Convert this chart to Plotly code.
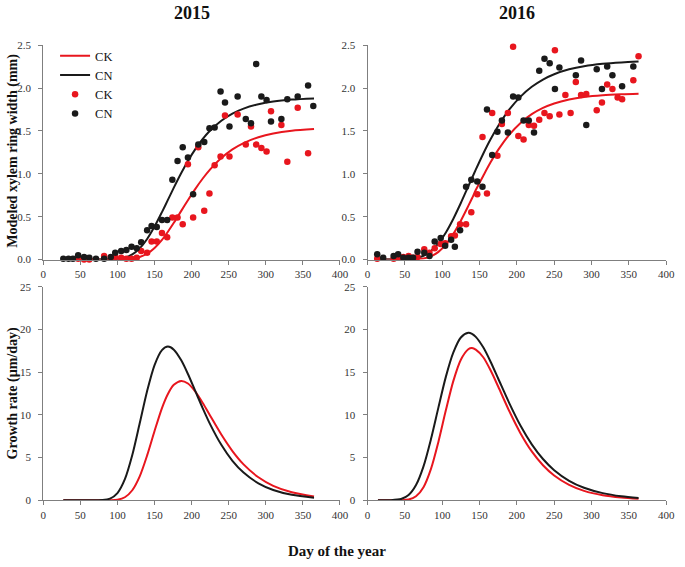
import plotly.graph_objects as go

# ---------------- observed points (day, ring width mm) ----------------
ck15_day = [47, 55, 62, 82, 91, 97, 105, 112, 119, 126, 132, 140, 146, 153, 160, 167, 174, 181, 188,
            195, 202, 209, 217, 224, 231, 239, 245, 251, 262, 273, 280, 287, 294, 301, 307, 321,
            329, 343, 357]
ck15_val = [0.01, 0.00, 0.00, 0.04, 0.02, 0.03, 0.02, 0.01, 0.01, 0.02, 0.10, 0.08, 0.21, 0.21, 0.31,
            0.26, 0.49, 0.49, 0.41, 1.11, 0.49, 1.31, 0.57, 0.77, 1.10, 1.20, 1.68, 1.20, 1.69, 1.34,
            1.55, 1.34, 1.30, 1.26, 1.73, 1.57, 1.14, 1.77, 1.24]

cn15_day = [27, 34, 40, 47, 55, 62, 71, 82, 91, 97, 105, 112, 119, 126, 132, 140, 146, 153, 160, 167,
            174, 181, 188, 195, 202, 209, 217, 224, 231, 239, 245, 251, 262, 273, 280, 287, 294, 301,
            307, 321, 329, 343, 357, 364]
cn15_val = [0.01, 0.01, 0.01, 0.05, 0.03, 0.02, 0.01, 0.01, 0.03, 0.08, 0.10, 0.11, 0.15, 0.13, 0.20,
            0.34, 0.39, 0.38, 0.46, 0.46, 0.93, 1.15, 1.31, 1.19, 0.76, 1.34, 1.37, 1.53, 1.54, 1.96,
            1.83, 1.55, 1.90, 1.64, 1.59, 2.28, 1.90, 1.86, 1.61, 1.64, 1.87, 1.90, 2.03, 1.79]

ck16_day = [13, 35, 41, 48, 55, 61, 67, 76, 83, 90, 98, 104, 112, 117, 124, 132, 139, 147, 154, 160,
            167, 174, 180, 188, 195, 202, 209, 216, 223, 230, 237, 244, 251, 257, 265, 272, 279, 286,
            293, 307, 314, 321, 328, 335, 341, 356, 363]
ck16_val = [0.01, 0.01, 0.02, 0.03, 0.04, 0.02, 0.03, 0.12, 0.08, 0.13, 0.18, 0.19, 0.27, 0.28, 0.41,
            0.41, 0.55, 0.76, 1.43, 0.77, 1.71, 1.21, 1.58, 1.71, 2.48, 1.44, 1.40, 1.57, 1.56, 1.63,
            1.71, 1.67, 2.44, 1.69, 1.92, 1.71, 2.07, 1.92, 1.93, 1.74, 1.83, 2.04, 1.99, 1.89, 1.87,
            2.09, 2.37]

cn16_day = [13, 21, 35, 41, 48, 55, 61, 67, 76, 83, 90, 98, 104, 112, 117, 124, 132, 139, 147, 154,
            160, 167, 174, 180, 188, 195, 202, 209, 216, 223, 230, 237, 244, 251, 257, 279, 286, 293,
            307, 314, 321, 328, 341, 356]
cn16_val = [0.06, 0.02, 0.04, 0.06, 0.02, 0.02, 0.02, 0.09, 0.08, 0.04, 0.21, 0.25, 0.16, 0.23, 0.15,
            0.34, 0.85, 0.93, 0.91, 0.85, 1.75, 1.22, 1.49, 1.62, 1.48, 1.90, 1.89, 1.62, 1.62, 1.48,
            2.20, 2.34, 2.29, 1.99, 2.24, 2.15, 2.32, 1.57, 2.22, 1.99, 2.25, 2.15, 2.02, 2.25]

# ---------------- fitted curves ----------------
fit15_day = [27, 40, 60, 80, 90, 100, 110, 120, 130, 140, 150, 160, 168, 176, 186, 195, 205, 215, 225,
             240, 255, 270, 290, 310, 335, 365]
ck15_fit = [0.0, 0.0, 0.0, 0.0, 0.0, 0.0004, 0.0022, 0.0094, 0.029, 0.068, 0.135, 0.230, 0.324, 0.428,
            0.567, 0.692, 0.824, 0.945, 1.052, 1.183, 1.284, 1.358, 1.426, 1.470, 1.502, 1.522]
cn15_fit = [0.0, 0.0, 0.0, 0.0001, 0.001, 0.0056, 0.021, 0.059, 0.130, 0.240, 0.384, 0.553, 0.695,
            0.838, 1.009, 1.150, 1.288, 1.406, 1.504, 1.619, 1.702, 1.760, 1.811, 1.843, 1.865, 1.878]
ck15_rate = [0.0, 0.0, 0.0, 0.0, 0.01, 0.07, 0.36, 1.18, 2.81, 5.26, 8.12, 10.81, 12.46, 13.53, 13.99,
             13.68, 12.73, 11.40, 9.91, 7.70, 5.77, 4.21, 2.70, 1.70, 0.94, 0.45]
cn15_rate = [0.0, 0.0, 0.0, 0.03, 0.20, 0.85, 2.47, 5.30, 9.02, 12.81, 15.85, 17.60, 18.01, 17.65,
             16.40, 14.80, 12.79, 10.78, 8.90, 6.50, 4.63, 3.25, 1.99, 1.21, 0.64, 0.30]

fit16_day = [14, 30, 45, 55, 65, 75, 85, 95, 105, 115, 125, 135, 140, 145, 155, 165, 175, 190, 205,
             220, 235, 250, 270, 290, 315, 340, 363]
ck16_fit = [0.0, 0.0, 0.0, 0.0004, 0.0029, 0.012, 0.037, 0.089, 0.176, 0.300, 0.453, 0.625, 0.714,
            0.810, 0.976, 1.136, 1.279, 1.457, 1.593, 1.695, 1.768, 1.820, 1.866, 1.895, 1.916, 1.927,
            1.933]
cn16_fit = [0.0, 0.0, 0.0008, 0.0043, 0.0156, 0.044, 0.099, 0.189, 0.316, 0.476, 0.659, 0.854, 0.951,
            1.048, 1.234, 1.405, 1.557, 1.750, 1.900, 2.014, 2.099, 2.161, 2.218, 2.255, 2.283, 2.299,
            2.308]
ck16_rate = [0.0, 0.0, 0.01, 0.09, 0.47, 1.54, 3.68, 6.87, 10.57, 13.99, 16.47, 17.70, 17.84, 17.65,
             16.76, 15.20, 13.33, 10.43, 7.84, 5.73, 4.11, 2.91, 1.81, 1.11, 0.60, 0.33, 0.18]
cn16_rate = [0.0, 0.01, 0.15, 0.62, 1.79, 3.98, 7.17, 10.89, 14.49, 17.33, 19.08, 19.63, 19.50, 19.15,
             17.92, 16.21, 14.27, 11.36, 8.73, 6.56, 4.84, 3.53, 2.29, 1.47, 0.84, 0.47, 0.28]

x_ticks = [0, 50, 100, 150, 200, 250, 300, 350, 400]
width_ticks = [0.0, 0.5, 1.0, 1.5, 2.0, 2.5]
rate_ticks = [0, 5, 10, 15, 20, 25]

RED = "#e8161e"
BLACK = "#1a1a1a"
SERIF = "Liberation Serif, Times New Roman, serif"

fig = go.Figure()

def line(x, y, color, name, xa, ya, show):
    fig.add_trace(go.Scatter(x=x, y=y, mode="lines", name=name, showlegend=show,
                             line=dict(color=color, width=2, shape="spline", smoothing=0.8),
                             xaxis=xa, yaxis=ya, cliponaxis=False))

def pts(x, y, color, name, xa, ya, show):
    fig.add_trace(go.Scatter(x=x, y=y, mode="markers", name=name, showlegend=show,
                             marker=dict(color=color, size=6.5),
                             xaxis=xa, yaxis=ya, cliponaxis=False))

# top-left 2015
line(fit15_day, ck15_fit, RED, "CK", "x", "y", True)
line(fit15_day, cn15_fit, BLACK, "CN", "x", "y", True)
pts(ck15_day, ck15_val, RED, "CK", "x", "y", True)
pts(cn15_day, cn15_val, BLACK, "CN", "x", "y", True)
# top-right 2016
line(fit16_day, ck16_fit, RED, "CK", "x2", "y2", False)
line(fit16_day, cn16_fit, BLACK, "CN", "x2", "y2", False)
pts(ck16_day, ck16_val, RED, "CK", "x2", "y2", False)
pts(cn16_day, cn16_val, BLACK, "CN", "x2", "y2", False)
# bottom-left 2015 rate
line(fit15_day, ck15_rate, RED, "CK", "x3", "y3", False)
line(fit15_day, cn15_rate, BLACK, "CN", "x3", "y3", False)
# bottom-right 2016 rate
line(fit16_day, ck16_rate, RED, "CK", "x4", "y4", False)
line(fit16_day, cn16_rate, BLACK, "CN", "x4", "y4", False)

W, H = 685, 567
dl = [41 / W, 343 / W]
dr = [371 / W, 675 / W]
dt = [1 - 259 / H, 1 - 40 / H]
db = [1 - 505 / H, 1 - 287 / H]

tickfont = dict(family=SERIF, size=11, color="#333333")
common_x = dict(range=[0, 400], tickvals=x_ticks, showline=True, linecolor="#7f7f7f", linewidth=1,
                ticks="outside", ticklen=4, tickcolor="#7f7f7f", showgrid=False, zeroline=False,
                tickfont=tickfont)
common_y = dict(showline=True, linecolor="#7f7f7f", linewidth=1, ticks="outside", ticklen=4,
                tickcolor="#7f7f7f", showgrid=False, zeroline=False, tickfont=tickfont,
                ticklabelstandoff=5)

fig.update_layout(
    width=W, height=H, margin=dict(l=0, r=0, t=0, b=0),
    paper_bgcolor="white", plot_bgcolor="white",
    font=dict(family=SERIF, color="#111111"),
    xaxis=dict(domain=dl, anchor="y", **common_x),
    xaxis2=dict(domain=dr, anchor="y2", **common_x),
    xaxis3=dict(domain=dl, anchor="y3", **common_x),
    xaxis4=dict(domain=dr, anchor="y4", **common_x),
    yaxis=dict(domain=dt, anchor="x", range=[0, 2.5], tickvals=width_ticks, tickformat=".1f", **common_y),
    yaxis2=dict(domain=dt, anchor="x2", range=[0, 2.5], tickvals=width_ticks, tickformat=".1f", **common_y),
    yaxis3=dict(domain=db, anchor="x3", range=[0, 25], tickvals=rate_ticks, **common_y),
    yaxis4=dict(domain=db, anchor="x4", range=[0, 25], tickvals=rate_ticks, **common_y),
    legend=dict(x=53 / W, y=1 - 36 / H, xanchor="left", yanchor="top", bgcolor="rgba(0,0,0,0)",
                font=dict(family=SERIF, size=12.5, color="#111111"), tracegroupgap=0, itemwidth=30),
    showlegend=True,
)

for txt, xc in (("<b>2015</b>", (dl[0] + dl[1]) / 2), ("<b>2016</b>", (dr[0] + dr[1]) / 2)):
    fig.add_annotation(xref="paper", yref="paper", x=xc, y=1 - 7 / H, text=txt, showarrow=False,
                       font=dict(family=SERIF, size=18, color="#111111"), xanchor="center", yanchor="middle")
fig.add_annotation(xref="paper", yref="paper", x=340 / W, y=1 - 557 / H, text="<b>Day of the year</b>",
                   showarrow=False, xanchor="center", yanchor="middle",
                   font=dict(family=SERIF, size=15, color="#111111"))
fig.add_annotation(xref="paper", yref="paper", x=10 / W, y=1 - 148 / H,
                   text="<b>Modeled xylem ring width (mm)</b>", textangle=-90, showarrow=False,
                   xanchor="center", yanchor="middle",
                   font=dict(family=SERIF, size=14, color="#111111"))
fig.add_annotation(xref="paper", yref="paper", x=10 / W, y=1 - 395 / H,
                   text="<b>Growth rate (µm/day)</b>", textangle=-90, showarrow=False,
                   xanchor="center", yanchor="middle",
                   font=dict(family=SERIF, size=14, color="#111111"))

fig.write_html("out.html", post_script="document.body.style.margin='0';",
               config={"displayModeBar": False})
